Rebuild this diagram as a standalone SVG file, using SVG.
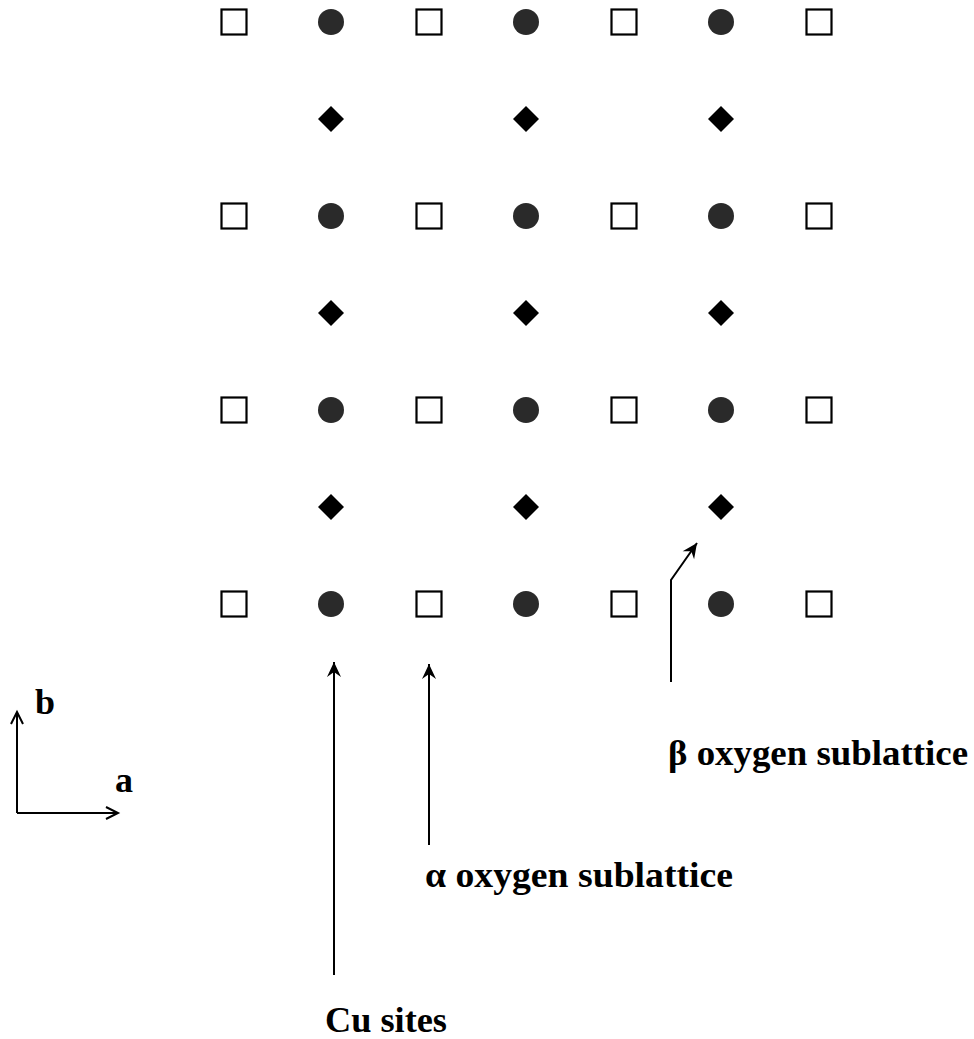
<svg xmlns="http://www.w3.org/2000/svg" width="974" height="1039" viewBox="0 0 974 1039">
<style>
.sq{fill:#fff;stroke:#000;stroke-width:2.2}
.cu{fill:#2a2a2a}
.dm{fill:#000}
.ln{stroke:#000;stroke-width:2;fill:none}
.t{font-family:"Liberation Serif",serif;font-weight:bold;font-size:36px;fill:#000}
</style>
<defs>
<rect id="S" class="sq" x="-12.5" y="-12.5" width="25" height="25"/>
<circle id="C" class="cu" r="13"/>
<polygon id="D" class="dm" points="0,-13 13,0 0,13 -13,0"/>
<marker id="ah" markerWidth="18" markerHeight="18" refX="16" refY="9" orient="auto" markerUnits="userSpaceOnUse">
<path d="M1,2 L16,9 L1,16 L6,9 Z" fill="#000"/>
</marker>
<marker id="ao" markerWidth="16" markerHeight="16" refX="13" refY="8" orient="auto" markerUnits="userSpaceOnUse">
<path d="M1,2 L13,8 L1,14" fill="none" stroke="#000" stroke-width="2"/>
</marker>
</defs>
<g id="alpha-sites">
<use href="#S" x="234" y="22"/><use href="#S" x="429" y="22"/><use href="#S" x="624" y="22"/><use href="#S" x="819" y="22"/>
<use href="#S" x="234" y="216"/><use href="#S" x="429" y="216"/><use href="#S" x="624" y="216"/><use href="#S" x="819" y="216"/>
<use href="#S" x="234" y="410"/><use href="#S" x="429" y="410"/><use href="#S" x="624" y="410"/><use href="#S" x="819" y="410"/>
<use href="#S" x="234" y="604"/><use href="#S" x="429" y="604"/><use href="#S" x="624" y="604"/><use href="#S" x="819" y="604"/>
</g>
<g id="cu-sites">
<use href="#C" x="331" y="22"/><use href="#C" x="526" y="22"/><use href="#C" x="721" y="22"/>
<use href="#C" x="331" y="216"/><use href="#C" x="526" y="216"/><use href="#C" x="721" y="216"/>
<use href="#C" x="331" y="410"/><use href="#C" x="526" y="410"/><use href="#C" x="721" y="410"/>
<use href="#C" x="331" y="604"/><use href="#C" x="526" y="604"/><use href="#C" x="721" y="604"/>
</g>
<g id="beta-sites">
<use href="#D" x="331" y="119"/><use href="#D" x="526" y="119"/><use href="#D" x="721" y="119"/>
<use href="#D" x="331" y="313"/><use href="#D" x="526" y="313"/><use href="#D" x="721" y="313"/>
<use href="#D" x="331" y="507"/><use href="#D" x="526" y="507"/><use href="#D" x="721" y="507"/>
</g>
<g id="connectors">
<line class="ln" x1="334" y1="975" x2="334" y2="662" marker-end="url(#ah)"/>
<line class="ln" x1="429" y1="845" x2="429" y2="664" marker-end="url(#ah)"/>
<polyline class="ln" points="671,682 671,580 697,543" marker-end="url(#ah)"/>
<line class="ln" x1="17" y1="813" x2="17" y2="712" marker-end="url(#ao)"/>
<line class="ln" x1="17" y1="813" x2="118" y2="813" marker-end="url(#ao)"/>
</g>
<g id="labels">
<text class="t" x="35" y="714">b</text>
<text class="t" x="115" y="792">a</text>
<text class="t" x="425" y="887" textLength="308" lengthAdjust="spacingAndGlyphs">α oxygen sublattice</text>
<text class="t" x="668" y="765" textLength="300" lengthAdjust="spacingAndGlyphs">β oxygen sublattice</text>
<text class="t" x="325" y="1032" textLength="122" lengthAdjust="spacingAndGlyphs">Cu sites</text>
</g>
</svg>
